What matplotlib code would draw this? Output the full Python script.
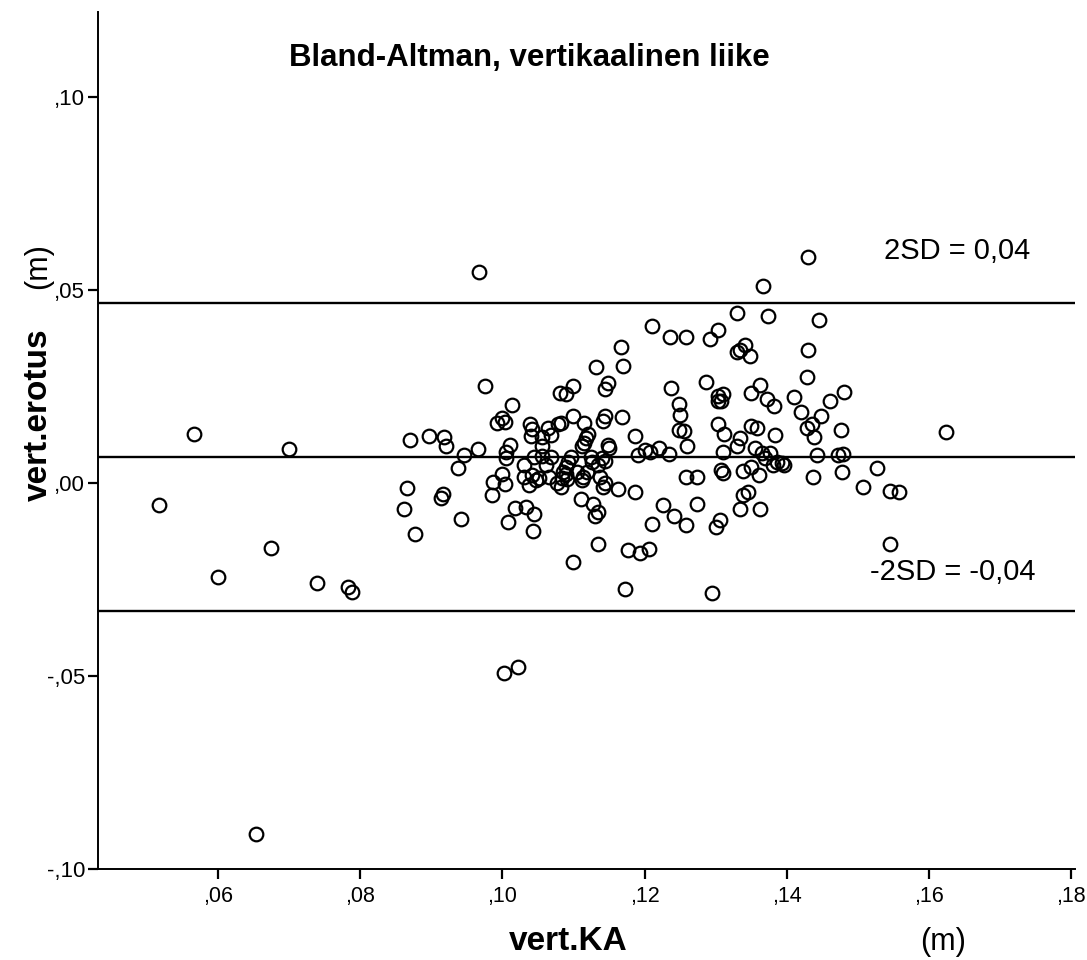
import matplotlib
matplotlib.use("Agg")
import matplotlib.pyplot as plt
from matplotlib.ticker import FixedLocator, FuncFormatter

plt.rcParams['font.family'] = ['Liberation Sans', 'DejaVu Sans']

# keskiarvo (vert.KA) ja erotus (vert.erotus), metreinä
vert_ka = [
    0.0516, 0.0566, 0.0600, 0.0653, 0.0674, 0.0700, 0.0739, 0.0783, 0.0788, 0.0862,
    0.0865, 0.0870, 0.0877, 0.0896, 0.0918, 0.0921, 0.0914, 0.0917, 0.0938, 0.0942,
    0.0946, 0.0965, 0.0967, 0.0975, 0.0985, 0.0987, 0.0992, 0.1000, 0.1000, 0.1002,
    0.1004, 0.1004, 0.1005, 0.1005, 0.1008, 0.1010, 0.1013, 0.1018, 0.1022, 0.1030,
    0.1030, 0.1033, 0.1037, 0.1039, 0.1041, 0.1040, 0.1042, 0.1044, 0.1044, 0.1043,
    0.1047, 0.1052, 0.1056, 0.1056, 0.1056, 0.1061, 0.1064, 0.1065, 0.1068, 0.1069,
    0.1077, 0.1078, 0.1081, 0.1082, 0.1082, 0.1085, 0.1089, 0.1089, 0.1091, 0.1092,
    0.1096, 0.1099, 0.1099, 0.1099, 0.1105, 0.1112, 0.1112, 0.1111, 0.1114, 0.1115,
    0.1115, 0.1118, 0.1119, 0.1120, 0.1124, 0.1126, 0.1127, 0.1131, 0.1132, 0.1134,
    0.1135, 0.1135, 0.1138, 0.1140, 0.1142, 0.1142, 0.1145, 0.1145, 0.1145, 0.1145,
    0.1148, 0.1148, 0.1150, 0.1162, 0.1167, 0.1168, 0.1170, 0.1173, 0.1177, 0.1089,
    0.1084, 0.1186, 0.1186, 0.1191, 0.1193, 0.1201, 0.1207, 0.1208, 0.1211, 0.1211,
    0.1221, 0.1226, 0.1234, 0.1236, 0.1237, 0.1241, 0.1248, 0.1249, 0.1250, 0.1256,
    0.1258, 0.1259, 0.1259, 0.1260, 0.1274, 0.1274, 0.1287, 0.1292, 0.1295, 0.1300,
    0.1303, 0.1303, 0.1307, 0.1311, 0.1304, 0.1303, 0.1306, 0.1307, 0.1310, 0.1310,
    0.1312, 0.1330, 0.1330, 0.1330, 0.1334, 0.1334, 0.1335, 0.1338, 0.1338, 0.1341,
    0.1345, 0.1348, 0.1350, 0.1350, 0.1350, 0.1355, 0.1358, 0.1361, 0.1363, 0.1363,
    0.1366, 0.1367, 0.1369, 0.1373, 0.1374, 0.1377, 0.1381, 0.1382, 0.1383, 0.1386,
    0.1393, 0.1396, 0.1410, 0.1421, 0.1429, 0.1429, 0.1430, 0.1430, 0.1436, 0.1437,
    0.1438, 0.1443, 0.1445, 0.1448, 0.1461, 0.1473, 0.1476, 0.1478, 0.1479, 0.1481,
    0.1508, 0.1527, 0.1545, 0.1546, 0.1558, 0.1624,
]
vert_erotus = [
    -0.0056, 0.0127, -0.0242, -0.0910, -0.0167, 0.0089, -0.0259, -0.0270, -0.0281, -0.0068,
    -0.0013, 0.0112, -0.0132, 0.0121, 0.0120, 0.0096, -0.0039, -0.0028, 0.0040, -0.0094,
    0.0072, 0.0088, 0.0548, 0.0252, -0.0030, 0.0004, 0.0156, 0.0169, 0.0024, -0.0491,
    0.0158, -0.0002, 0.0081, 0.0065, -0.0100, 0.0098, 0.0203, -0.0065, -0.0477, 0.0048,
    0.0017, -0.0063, -0.0004, 0.0153, 0.0140, 0.0123, 0.0022, 0.0067, -0.0079, -0.0123,
    0.0009, 0.0013, 0.0095, 0.0071, 0.0119, 0.0048, 0.0143, 0.0017, 0.0125, 0.0069,
    0.0000, 0.0152, 0.0234, 0.0156, -0.0009, 0.0030, 0.0043, 0.0232, 0.0011, 0.0056,
    0.0067, 0.0251, 0.0175, -0.0205, 0.0030, 0.0095, 0.0009, -0.0041, 0.0017, 0.0156,
    0.0104, 0.0117, 0.0030, 0.0127, 0.0067, 0.0056, -0.0054, -0.0084, 0.0302, -0.0158,
    0.0048, -0.0076, 0.0017, 0.0065, 0.0162, -0.0010, 0.0175, 0.0058, 0.0000, 0.0245,
    0.0099, 0.0259, 0.0091, -0.0014, 0.0353, 0.0172, 0.0304, -0.0274, -0.0174, 0.0024,
    0.0013, 0.0123, -0.0024, 0.0074, -0.0180, 0.0085, -0.0170, 0.0081, -0.0107, 0.0408,
    0.0090, -0.0056, 0.0075, 0.0379, 0.0246, -0.0084, 0.0138, 0.0204, 0.0177, 0.0136,
    -0.0109, 0.0380, 0.0017, 0.0095, 0.0015, -0.0054, 0.0263, 0.0374, -0.0285, -0.0114,
    0.0397, 0.0214, 0.0212, 0.0232, 0.0225, 0.0153, -0.0095, 0.0035, 0.0026, 0.0081,
    0.0127, 0.0441, 0.0340, 0.0095, 0.0346, 0.0118, -0.0066, 0.0032, -0.0031, 0.0359,
    -0.0022, 0.0329, 0.0234, 0.0147, 0.0041, 0.0091, 0.0143, 0.0021, 0.0255, -0.0067,
    0.0078, 0.0512, 0.0065, 0.0218, 0.0434, 0.0078, 0.0048, 0.0199, 0.0126, 0.0054,
    0.0052, 0.0048, 0.0222, 0.0185, 0.0274, 0.0144, 0.0346, 0.0587, 0.0154, 0.0016,
    0.0119, 0.0072, 0.0423, 0.0175, 0.0214, 0.0072, 0.0138, 0.0029, 0.0075, 0.0237,
    -0.0009, 0.0039, -0.0158, -0.0020, -0.0023, 0.0132,
]

keskiarvo = 0.00675
kaksi_sd = 0.0400
x_ticks = [0.06, 0.08, 0.10, 0.12, 0.14, 0.16, 0.18]
y_ticks = [-0.10, -0.05, 0.00, 0.05, 0.10]


def pilkku(v, pos=None):
    return "{:.2f}".format(v).replace("0.", ",")


W, H = 1087, 960
fig = plt.figure(figsize=(W / 100, H / 100), dpi=100)
ax = fig.add_axes([97.5 / W, 1 - 869.4 / H, (1075 - 97.5) / W, (869.4 - 12) / H])

ax.plot(vert_ka, vert_erotus, linestyle='none', marker='o', markersize=9.8,
        markerfacecolor='none', markeredgecolor='black', markeredgewidth=1.6)

for y in (keskiarvo + kaksi_sd, keskiarvo, keskiarvo - kaksi_sd):
    ax.axhline(y, color='black', linewidth=1.7)

ax.set_xlim(0.0430, 0.1806)
ax.set_ylim(-0.1001, 0.1221)
ax.xaxis.set_major_locator(FixedLocator(x_ticks))
ax.yaxis.set_major_locator(FixedLocator(y_ticks))
ax.xaxis.set_major_formatter(FuncFormatter(pilkku))
ax.yaxis.set_major_formatter(FuncFormatter(pilkku))
for s in ('top', 'right'):
    ax.spines[s].set_visible(False)
for s in ('left', 'bottom'):
    ax.spines[s].set_linewidth(1.4)
ax.tick_params(direction='out', length=7, width=1.6, pad=2)
ax.tick_params(axis='y', labelsize=16)
ax.tick_params(axis='x', labelsize=15.5, pad=5)
for lab in ax.get_xticklabels():
    lab.set_family(['Liberation Sans Narrow', 'Liberation Sans'])

fig.text(529 / W, 1 - 58 / H, "Bland-Altman, vertikaalinen liike", fontsize=22.5,
         fontweight='bold', ha='center', va='center')
fig.text(957 / W, 1 - 251 / H, "2SD = 0,04", fontsize=21, ha='center', va='center')
fig.text(953 / W, 1 - 572 / H, "-2SD = -0,04", fontsize=21, ha='center', va='center')

narrow = ['Liberation Sans Narrow', 'Liberation Sans']
fig.text(568 / W, 1 - 942 / H, "vert.KA", fontsize=24, fontweight='bold',
         family=narrow, ha='center', va='center')
fig.text(943 / W, 1 - 942 / H, "(m)", fontsize=22, family=narrow, ha='center', va='center')
fig.text(38 / W, 1 - 415 / H, "vert.erotus", fontsize=24, fontweight='bold',
         family=narrow, rotation=90, ha='center', va='center')
fig.text(38 / W, 1 - 266 / H, "(m)", fontsize=22, family=narrow, rotation=90,
         ha='center', va='center')

fig.savefig("out.png", dpi=100)
